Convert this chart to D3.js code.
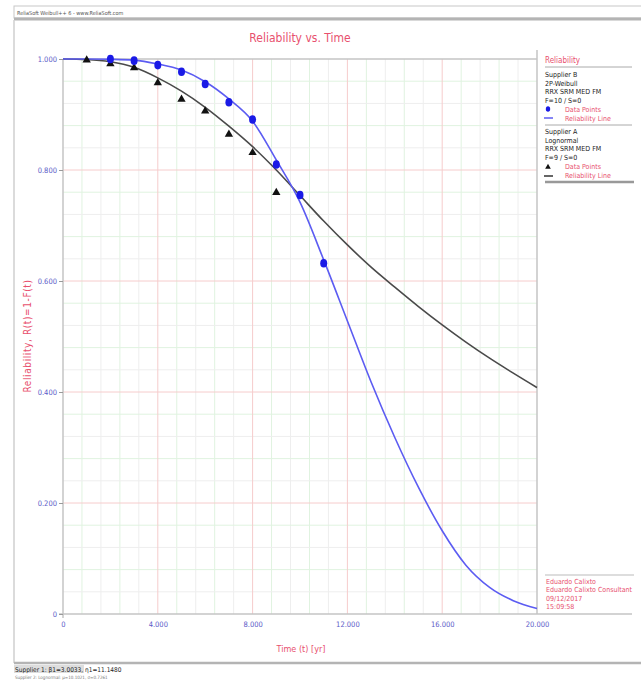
<!DOCTYPE html>
<html>
<head>
<meta charset="utf-8">
<script src="https://cdn.jsdelivr.net/npm/d3@7"></script>
<style>
  body { margin: 0; background: #fff; }
  text { font-family: "Liberation Sans Narrow", "DejaVu Sans Condensed", Arial, sans-serif; }
</style>
</head>
<body>
<div id="chart"></div>
<script>
// 数据：供应商 B（蓝色）和供应商 A（黑色）
const timeB = [2000, 3000, 4000, 5000, 6000, 7000, 8000, 9000, 10000, 11000];
const relB = [1.0, 0.997, 0.989, 0.977, 0.955, 0.922, 0.891, 0.810, 0.755, 0.632];
const timeA = [1000, 2000, 3000, 4000, 5000, 6000, 7000, 8000, 9000];
const relA = [1.0, 0.993, 0.986, 0.959, 0.929, 0.908, 0.866, 0.833, 0.761];

// 拟合曲线
const lineTime = [0, 1000, 2000, 3000, 4000, 5000, 6000, 7000, 8000, 9000, 10000,
  11000, 12000, 13000, 14000, 15000, 16000, 17000, 18000, 19000, 20000];
const lineB = [1.0, 1.0, 0.9995, 0.998, 0.991, 0.980, 0.959, 0.928, 0.888, 0.818, 0.742,
  0.638, 0.528, 0.418, 0.318, 0.228, 0.150, 0.088, 0.048, 0.024, 0.010];
const lineA = [1.0, 0.999, 0.995, 0.985, 0.966, 0.942, 0.913, 0.879, 0.842, 0.800, 0.754,
  0.708, 0.665, 0.625, 0.589, 0.554, 0.521, 0.490, 0.461, 0.434, 0.408];

const xTicks = [0, 4000, 8000, 12000, 16000, 20000];
const xTickLabels = ["0", "4.000", "8.000", "12.000", "16.000", "20.000"];
const yTicks = [0, 0.2, 0.4, 0.6, 0.8, 1.0];
const yTickLabels = ["0", "0.200", "0.400", "0.600", "0.800", "1.000"];

const legendB = ["Supplier B", "2P-Weibull", "RRX SRM MED FM", "F=10 / S=0"];
const legendA = ["Supplier A", "Lognormal", "RRX SRM MED FM", "F=9 / S=0"];
const signature = ["Eduardo Calixto", "Eduardo Calixto Consultant", "09/12/2017", "15:09:58"];

const width = 641, height = 681;
const plot = { left: 63, right: 537, top: 59, bottom: 614 };

const red = "#e8506e";
const tickBlue = "#5a5ac8";

const svg = d3.select("#chart").append("svg")
  .attr("width", width)
  .attr("height", height);

// 外框
svg.append("rect")
  .attr("x", 14).attr("y", 6)
  .attr("width", 640).attr("height", 12)
  .attr("fill", "#fff")
  .attr("stroke", "#c8c8c8");
svg.append("line")
  .attr("x1", 14).attr("x2", width).attr("y1", 19).attr("y2", 19)
  .attr("stroke", "#b4b4b4").attr("stroke-width", 3);
svg.append("text")
  .attr("x", 17).attr("y", 15)
  .attr("font-size", "5.5px").attr("fill", "#555")
  .text("ReliaSoft Weibull++ 6 - www.ReliaSoft.com");
svg.append("line")
  .attr("x1", 14).attr("x2", 14).attr("y1", 20).attr("y2", 663)
  .attr("stroke", "#cfcfcf").attr("stroke-width", 1.5);
svg.append("line")
  .attr("x1", 14).attr("x2", width).attr("y1", 663).attr("y2", 663)
  .attr("stroke", "#b4b4b4").attr("stroke-width", 2.5);

const x = d3.scaleLinear().domain([0, 20000]).range([plot.left, plot.right]);
const y = d3.scaleLinear().domain([0, 1]).range([plot.bottom, plot.top]);

// 网格
const grid = svg.append("g");
grid.selectAll(".vminor")
  .data(d3.range(0, 20001, 800).filter(d => d % 4000 !== 0))
  .enter().append("line")
  .attr("x1", d => x(d)).attr("x2", d => x(d))
  .attr("y1", plot.top).attr("y2", plot.bottom)
  .attr("stroke", (d, i) => i % 2 === 0 ? "#e0f3e0" : "#eeeeee");
grid.selectAll(".hminor")
  .data(d3.range(0, 1.0001, 0.04).filter(d => Math.round(d * 100) % 20 !== 0))
  .enter().append("line")
  .attr("x1", plot.left).attr("x2", plot.right)
  .attr("y1", d => y(d)).attr("y2", d => y(d))
  .attr("stroke", (d, i) => i % 2 === 0 ? "#eeeeee" : "#e0f3e0");
grid.selectAll(".vmajor")
  .data(xTicks.slice(1, -1))
  .enter().append("line")
  .attr("x1", d => x(d)).attr("x2", d => x(d))
  .attr("y1", plot.top).attr("y2", plot.bottom)
  .attr("stroke", "#f6cccc");
grid.selectAll(".hmajor")
  .data(yTicks.slice(1, -1))
  .enter().append("line")
  .attr("x1", plot.left).attr("x2", plot.right)
  .attr("y1", d => y(d)).attr("y2", d => y(d))
  .attr("stroke", "#f6cccc");

// 边框线
svg.append("line")
  .attr("x1", plot.left).attr("x2", plot.right).attr("y1", plot.top).attr("y2", plot.top)
  .attr("stroke", "#c4c4c4").attr("stroke-width", 1.5);
svg.append("line")
  .attr("x1", plot.right).attr("x2", plot.right).attr("y1", 50).attr("y2", plot.bottom)
  .attr("stroke", "#c4c4c4").attr("stroke-width", 1.5);
svg.append("line")
  .attr("x1", plot.left).attr("x2", plot.left).attr("y1", plot.top).attr("y2", plot.bottom + 4)
  .attr("stroke", "#c4c4c4").attr("stroke-width", 1.5);
svg.append("line")
  .attr("x1", plot.left - 4).attr("x2", 632).attr("y1", plot.bottom).attr("y2", plot.bottom)
  .attr("stroke", "#c4c4c4").attr("stroke-width", 1.5);

// 坐标轴
const xAxis = svg.append("g")
  .attr("transform", `translate(0,${plot.bottom})`)
  .call(d3.axisBottom(x).tickValues(xTicks).tickSize(0).tickPadding(8)
    .tickFormat((d, i) => xTickLabels[i]));
xAxis.select(".domain").remove();
xAxis.selectAll("text").attr("fill", tickBlue).attr("font-size", "7.5px")
  .style("font-family", "'Liberation Sans Narrow', 'DejaVu Sans Condensed', sans-serif");

const yAxis = svg.append("g")
  .attr("transform", `translate(${plot.left},0)`)
  .call(d3.axisLeft(y).tickValues(yTicks).tickSize(4).tickPadding(2)
    .tickFormat((d, i) => yTickLabels[i]));
yAxis.select(".domain").remove();
yAxis.selectAll("line").attr("stroke", "#999");
yAxis.selectAll("text").attr("fill", tickBlue).attr("font-size", "7.5px")
  .style("font-family", "'Liberation Sans Narrow', 'DejaVu Sans Condensed', sans-serif");

// 标题和轴标签
svg.append("text")
  .attr("x", 300).attr("y", 42)
  .attr("text-anchor", "middle")
  .attr("font-size", "12px").attr("fill", red)
  .text("Reliability vs. Time");
svg.append("text")
  .attr("transform", "translate(31,336) rotate(-90)")
  .attr("text-anchor", "middle")
  .attr("font-size", "10px").attr("fill", red)
  .attr("letter-spacing", "0.6px")
  .text("Reliability, R(t)=1-F(t)");
svg.append("text")
  .attr("x", 301).attr("y", 652)
  .attr("text-anchor", "middle")
  .attr("font-size", "9px").attr("fill", red)
  .text("Time (t) [yr]");

// 曲线
const line = d3.line()
  .x(d => x(d[0]))
  .y(d => y(d[1]))
  .curve(d3.curveMonotoneX);

svg.append("path")
  .datum(lineTime.map((t, i) => [t, lineA[i]]))
  .attr("d", line)
  .attr("fill", "none")
  .attr("stroke", "#4a4a4a")
  .attr("stroke-width", 1.6);
svg.append("path")
  .datum(lineTime.map((t, i) => [t, lineB[i]]))
  .attr("d", line)
  .attr("fill", "none")
  .attr("stroke", "#5c5cf2")
  .attr("stroke-width", 1.6);

// 数据点
const tri = d3.symbol().type(d3.symbolTriangle).size(30);
svg.append("g")
  .selectAll("path")
  .data(timeA.map((t, i) => [t, relA[i]]))
  .enter().append("path")
  .attr("d", tri)
  .attr("transform", d => `translate(${x(d[0])},${y(d[1]) + 1})`)
  .attr("fill", "#111");

svg.append("g")
  .selectAll("ellipse")
  .data(timeB.map((t, i) => [t, relB[i]]))
  .enter().append("ellipse")
  .attr("cx", d => x(d[0]))
  .attr("cy", d => y(d[1]))
  .attr("rx", 3.5).attr("ry", 4.3)
  .attr("fill", "#1a1ae6");

// 图例
const lg = svg.append("g").attr("font-size", "7px");
lg.append("text").attr("x", 545).attr("y", 63).attr("fill", red).attr("font-size", "8px").text("Reliability");
lg.append("line").attr("x1", 545).attr("x2", 632).attr("y1", 67).attr("y2", 67).attr("stroke", "#aaa");

lg.selectAll(".lb").data(legendB).enter().append("text")
  .attr("x", 545).attr("y", (d, i) => 77 + i * 8.5)
  .attr("fill", "#222").text(d => d);
lg.append("ellipse").attr("cx", 548).attr("cy", 109).attr("rx", 2.2).attr("ry", 2.8).attr("fill", "#1a1ae6");
lg.append("text").attr("x", 565).attr("y", 112).attr("fill", red).text("Data Points");
lg.append("line").attr("x1", 544).attr("x2", 553).attr("y1", 118).attr("y2", 118).attr("stroke", "#5c5cf2").attr("stroke-width", 1.5);
lg.append("text").attr("x", 565).attr("y", 121).attr("fill", red).text("Reliability Line");
lg.append("line").attr("x1", 545).attr("x2", 632).attr("y1", 125).attr("y2", 125).attr("stroke", "#aaa");

lg.selectAll(".la").data(legendA).enter().append("text")
  .attr("x", 545).attr("y", (d, i) => 134 + i * 8.5)
  .attr("fill", "#222").text(d => d);
lg.append("path").attr("d", d3.symbol().type(d3.symbolTriangle).size(14))
  .attr("transform", "translate(548,167)").attr("fill", "#111");
lg.append("text").attr("x", 565).attr("y", 169).attr("fill", red).text("Data Points");
lg.append("line").attr("x1", 544).attr("x2", 553).attr("y1", 176).attr("y2", 176).attr("stroke", "#333").attr("stroke-width", 1.5);
lg.append("text").attr("x", 565).attr("y", 178).attr("fill", red).text("Reliability Line");
lg.append("line").attr("x1", 545).attr("x2", 634).attr("y1", 182).attr("y2", 182).attr("stroke", "#999").attr("stroke-width", 2.5);

// 签名
lg.append("line").attr("x1", 545).attr("x2", 634).attr("y1", 575).attr("y2", 575).attr("stroke", "#bbb");
lg.selectAll(".sig").data(signature).enter().append("text")
  .attr("x", 546).attr("y", (d, i) => 584 + i * 8.3)
  .attr("fill", red).text(d => d);

// 底部说明
svg.append("rect").attr("x", 14).attr("y", 665).attr("width", 70).attr("height", 8).attr("fill", "#ddd");
svg.append("text").attr("x", 15).attr("y", 672).attr("font-size", "6.5px").attr("fill", "#222")
  .text("Supplier 1: β1=3.0033, η1=11.1480");
svg.append("text").attr("x", 15).attr("y", 679).attr("font-size", "4.5px").attr("fill", "#777")
  .text("Supplier 2: Lognormal: μ=10.1021, σ=0.7261");
</script>
</body>
</html>
